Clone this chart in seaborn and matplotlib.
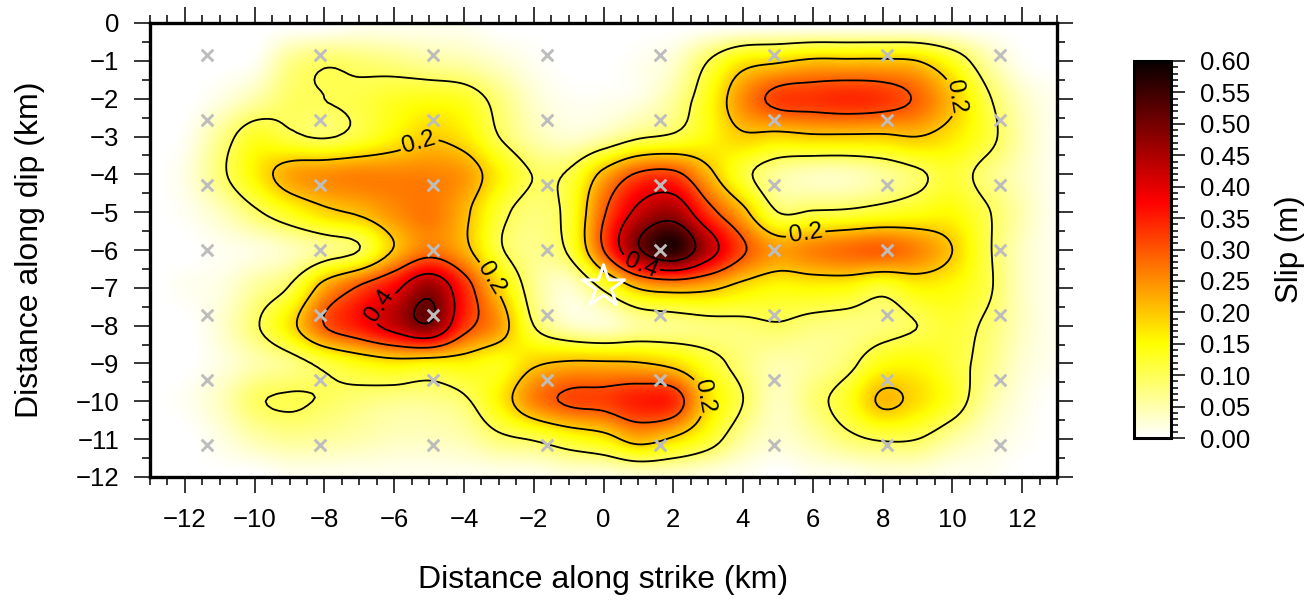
import numpy as np
import pandas as pd
import seaborn as sns
import matplotlib
matplotlib.use("Agg")
import matplotlib.pyplot as plt
from matplotlib.colors import LinearSegmentedColormap
from matplotlib.ticker import MultipleLocator

# slip in cm, on a 1 km grid (x = -13..13), one list per depth
strike_km = list(range(-13, 14))
dip_km = [0, -1, -2, -3, -4, -5, -6, -7, -8, -9, -10, -11, -12]
slip_y0 = [0, 0, 0, 0, 0, 0, 1, 1, 1, 1, 0, 0, 0, 0, 0, 0, 0, 0, 0, 0, 0, 0, 0, 0, 0, 0, 0]
slip_y1 = [0, 0, 0, 1, 7, 9.3, 8.5, 7.5, 6, 5, 3, 1, 0, 0, 1, 3, 10, 17, 19, 21, 21, 21, 20, 14, 6, 1, 0]
slip_y2 = [0, 0, 2, 5.5, 9.3, 10, 11, 13, 14, 13, 8, 3, 1, 1, 2, 6, 14, 25, 32, 33, 34, 33, 29, 21, 11, 4, 1]
slip_y3 = [0, 1, 7, 13, 11, 9.5, 12, 16, 19.5, 17, 10, 5, 3, 5, 9, 11, 15, 19, 18, 19, 19, 19, 20, 17, 12, 5, 1]
slip_y4 = [0, 2, 8.5, 16, 23, 25, 26, 26, 26, 24, 16, 9.8, 10.8, 22, 31, 32, 22, 12, 6, 4, 4, 6, 9, 12, 8, 4, 1]
slip_y5 = [0, 1, 4, 9, 14, 18.5, 21, 25, 27, 21.5, 12, 8, 12, 29, 42, 46, 33, 22, 10, 10.5, 11, 12.5, 14, 15, 10.5, 5, 1]
slip_y6 = [0, 0, 1, 2, 4, 7, 10, 20.5, 27, 22, 11, 7, 11, 30, 49, 57, 44, 31, 24, 26, 28, 29, 26, 20, 11, 4, 1]
slip_y7 = [0, 1, 2, 6, 10.5, 23, 31, 38, 47, 34, 19, 7, 3, 11, 20.5, 23, 21.5, 17.5, 15, 15.5, 15, 12, 15.5, 15, 11, 4, 1]
slip_y8 = [0, 0, 3, 9, 17.5, 30, 36, 43, 49, 33, 24, 10, 4, 3, 6, 7, 8, 8.5, 9.5, 8, 7.5, 8, 10, 12, 9, 4, 1]
slip_y9 = [0, 0, 2, 5, 7.5, 11.5, 15, 17, 16, 16, 14, 19, 21, 21, 20.5, 18, 12.5, 8, 5, 6, 8.5, 14, 15, 12, 8, 3, 1]
slip_y10 = [0, 1, 4, 9.2, 10.6, 9.5, 8, 7, 7, 9, 16, 26, 31, 32, 35, 34, 18.5, 10, 4, 8, 13, 21, 18, 13, 6, 2, 0]
slip_y11 = [0, 0, 2, 5, 6.5, 6, 5, 4, 4, 5, 8.5, 10.5, 14, 17, 22.5, 19, 13, 6, 3, 5, 8.5, 10.5, 10, 6, 3, 1, 0]
slip_y12 = [0, 0, 0, 0, 1, 1, 1, 1, 1, 1, 1, 1, 2, 2, 3, 3, 2, 1, 0, 1, 1, 2, 2, 1, 1, 0, 0]

# subfault centres
patch_x = [-11.375, -8.125, -4.875, -1.625, 1.625, 4.875, 8.125, 11.375]
patch_y = [-0.857, -2.571, -4.286, -6.0, -7.714, -9.429, -11.143]
hypo_x = [0]
hypo_y = [-6.97]

plain_levels = [0.1, 0.3, 0.5]
labels_02 = [(-5.35, -3.0), (-3.3, -6.8), (5.8, -5.6), (2.8, -9.9), (9.9, -2.0)]
labels_04 = [(-6.4, -7.5), (0.95, -6.7)]
cbar_ticks = [0.0, 0.05, 0.10, 0.15, 0.20, 0.25, 0.30, 0.35, 0.40, 0.45, 0.50, 0.55, 0.60]


def smooth(z, n, axis):
    # catmull-rom resample along one axis so the field is drawn smooth like grdimage
    z = np.moveaxis(z, axis, 0)
    N = z.shape[0]
    t = np.arange((N - 1) * n + 1) / n
    i = np.minimum(t.astype(int), N - 2)
    u = (t - i)[:, None]
    p0, p1 = z[np.maximum(i - 1, 0)], z[i]
    p2, p3 = z[i + 1], z[np.minimum(i + 2, N - 1)]
    out = 0.5 * (2 * p1 + (p2 - p0) * u + (2 * p0 - 5 * p1 + 4 * p2 - p3) * u ** 2
                 + (3 * p1 - p0 - 3 * p2 + p3) * u ** 3)
    return np.moveaxis(out, 0, axis)


sns.set_theme(style="ticks", rc={"text.color": "black", "axes.labelcolor": "black", "axes.edgecolor": "black",
                                 "xtick.color": "black", "ytick.color": "black"})
plt.rcParams['font.family'] = ['Liberation Sans', 'DejaVu Sans']

slip = np.array([slip_y0, slip_y1, slip_y2, slip_y3, slip_y4, slip_y5, slip_y6,
                 slip_y7, slip_y8, slip_y9, slip_y10, slip_y11, slip_y12]) / 100.0
fine = smooth(smooth(slip, 10, 0), 10, 1)
fine = np.clip(fine, 0, None)
xf = np.linspace(strike_km[0], strike_km[-1], fine.shape[1])
yf = np.linspace(dip_km[0], dip_km[-1], fine.shape[0])

# reversed GMT hot
hot = LinearSegmentedColormap.from_list(
    "gmt_hot", [(0, "#ffffff"), (0.25, "#ffff00"), (0.625, "#ff0000"), (1, "#080000")], N=256)

W, H = 1315, 601
fig = plt.figure(figsize=(W / 100, H / 100), dpi=100)
ax = fig.add_axes([150 / W, 1 - 477 / H, 907 / W, 454 / H])
im = ax.imshow(fine, extent=[-13, 13, -12, 0], origin="upper", aspect="auto",
               cmap=hot, vmin=0, vmax=0.6, interpolation="bilinear")
ax.contour(xf, yf, fine, levels=plain_levels, colors="black", linewidths=1.3)
cs2 = ax.contour(xf, yf, fine, levels=[0.2], colors="black", linewidths=1.3)
cs4 = ax.contour(xf, yf, fine, levels=[0.4], colors="black", linewidths=1.3)
ax.clabel(cs2, fmt="%.1f", fontsize=17.5, inline=True, inline_spacing=3, manual=labels_02)
ax.clabel(cs4, fmt="%.1f", fontsize=17.5, inline=True, inline_spacing=3, manual=labels_04)

px, py = np.meshgrid(patch_x, patch_y)
patches = pd.DataFrame({"x": px.ravel(), "y": py.ravel()})
sns.scatterplot(data=patches, x="x", y="y", marker="x", color="#bdbdbd", s=70, linewidth=2.1, ax=ax, zorder=4)
hypo = pd.DataFrame({"x": hypo_x, "y": hypo_y})
sns.scatterplot(data=hypo, x="x", y="y", marker="*", s=1000, facecolor="none", edgecolor="white",
                linewidth=2.2, ax=ax, zorder=5)

ax.set_xlim(-13, 13)
ax.set_ylim(-12, 0)
ax.xaxis.set_major_locator(MultipleLocator(2))
ax.xaxis.set_minor_locator(MultipleLocator(0.5))
ax.yaxis.set_major_locator(MultipleLocator(1))
ax.yaxis.set_minor_locator(MultipleLocator(0.5))
ax.tick_params(which="major", direction="out", top=True, right=True, length=11.5, width=1.1,
               labelsize=18.5, pad=10.5)
ax.tick_params(which="minor", direction="out", top=True, right=True, length=5.5, width=1.1)
for s in ax.spines.values():
    s.set_linewidth(2.4)
ax.set_xlabel("Distance along strike (km)", fontsize=23, labelpad=24)
ax.set_ylabel("Distance along dip (km)", fontsize=23, labelpad=22)

# colour scale
cax = fig.add_axes([1134 / W, 1 - 438 / H, 37 / W, 377 / H])
cb = fig.colorbar(im, cax=cax)
cb.set_ticks(cbar_ticks)
cb.set_ticklabels(["%.2f" % v for v in cbar_ticks])
cb.ax.yaxis.set_minor_locator(MultipleLocator(0.01))
cb.ax.tick_params(which="major", length=10, width=1.1, labelsize=18.5, pad=11)
cb.ax.tick_params(which="minor", length=5, width=1.1)
cb.outline.set_linewidth(2.2)
cb.set_label("Slip (m)", fontsize=22.5, labelpad=17.5)

fig.savefig("out.png", dpi=100)
